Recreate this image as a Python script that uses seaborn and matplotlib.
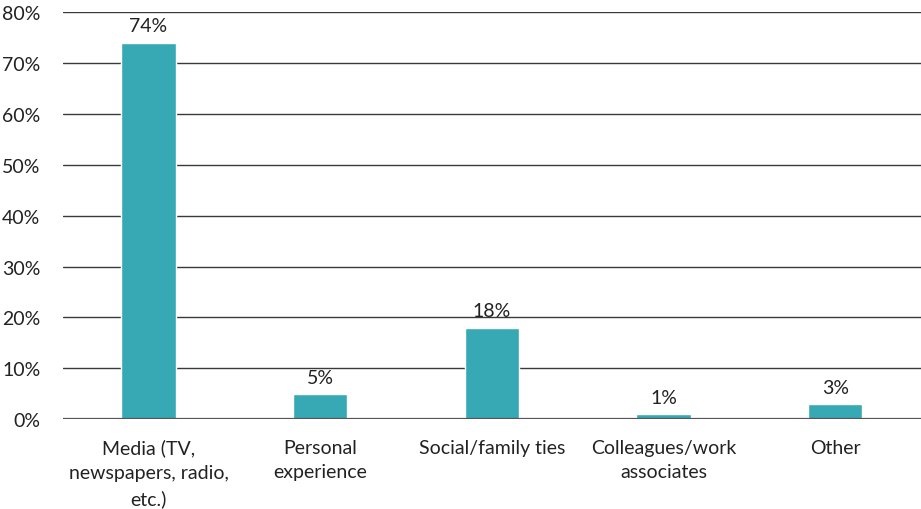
import matplotlib
matplotlib.use("Agg")
import matplotlib.pyplot as plt
import seaborn as sns
import pandas as pd

categories = ["Media (TV,\nnewspapers, radio,\netc.)", "Personal\nexperience",
              "Social/family ties", "Colleagues/work\nassociates", "Other"]
values = [74, 5, 18, 1, 3]
yticks = [0, 10, 20, 30, 40, 50, 60, 70, 80]

sns.set_theme(style="white")
plt.rcParams["font.family"] = ["Lato", "DejaVu Sans"]

df = pd.DataFrame({"source": categories, "share": values})

fig = plt.figure(figsize=(9.21, 5.10), dpi=100)
ax = fig.add_axes([0.068, 0.176, 0.932, 0.7985])

sns.barplot(data=df, x="source", y="share", color="#36A9B4", saturation=1,
            width=0.315, ax=ax, zorder=3)

ax.set_ylim(0, 80)
ax.set_yticks(yticks)
ax.set_yticklabels([f"{t}%" for t in yticks])
ax.yaxis.grid(True, color="#3a3a3a", linewidth=1.0, zorder=0)
ax.set_axisbelow(True)
for s in ["top", "right", "left", "bottom"]:
    ax.spines[s].set_visible(False)
ax.axhline(0, color="#555555", linewidth=1.6, zorder=4)

ax.set_xlabel("")
ax.set_ylabel("")
ax.tick_params(axis="y", labelsize=14, colors="#222222", pad=16, length=0)
ax.tick_params(axis="x", labelsize=14, colors="#222222", pad=14, length=0)
for lab in ax.get_xticklabels():
    lab.set_linespacing(1.55)

for i, v in enumerate(values):
    ax.text(i, v + 1.6, f"{v}%", ha="center", va="bottom", fontsize=14, color="#222222")

fig.savefig("out.png", dpi=100)
